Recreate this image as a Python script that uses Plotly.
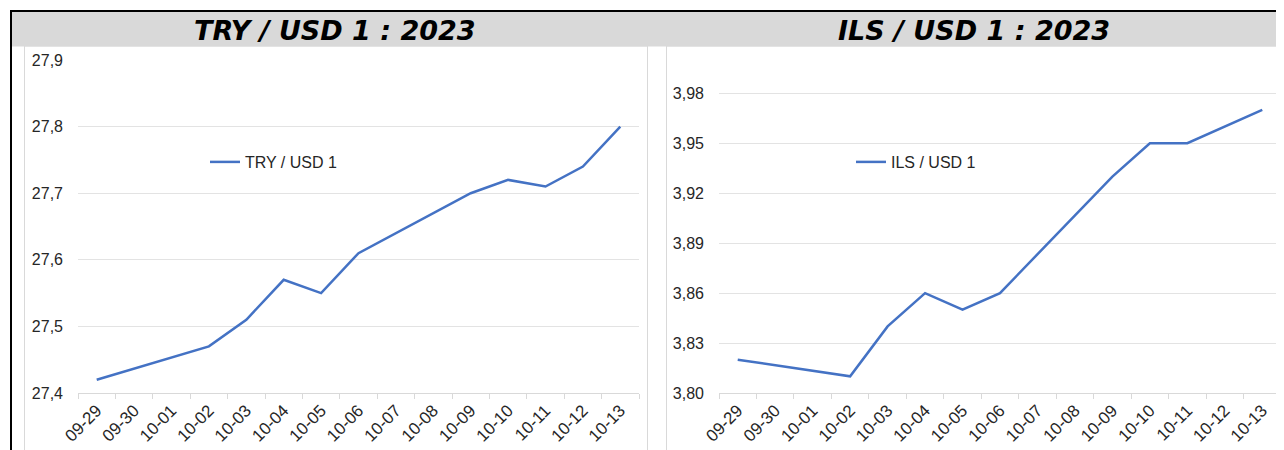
import plotly.graph_objects as go

# ---- data ----
dates = ["09-29", "09-30", "10-01", "10-02", "10-03", "10-04", "10-05", "10-06",
         "10-07", "10-08", "10-09", "10-10", "10-11", "10-12", "10-13"]
try_usd = [27.42, None, None, 27.47, 27.51, 27.57, 27.55, 27.61,
           None, None, 27.70, 27.72, 27.71, 27.74, 27.80]
ils_usd = [3.82, None, None, 3.81, 3.84, 3.86, 3.85, 3.86,
           None, None, 3.93, 3.95, 3.95, 3.96, 3.97]
titles = ["TRY / USD 1 : 2023", "ILS / USD 1 : 2023"]
names = ["TRY / USD 1", "ILS / USD 1"]

# the page body has an 8px margin; size the figure to fill the rest of the window
OFF = 8
W, H = 1284 - OFF, 450 - OFF
def px(x):
    return (x - OFF) / W
def py(y):
    return 1 - (y - OFF) / H

LINE = "#4472C4"
GRID = "#e3e3e3"
AX = "#d9d9d9"
TXT = "#262626"

fig = go.Figure()
fig.add_trace(go.Scatter(x=dates, y=try_usd, name=names[0], mode="lines",
                         line=dict(color=LINE, width=2.5), connectgaps=True,
                         xaxis="x", yaxis="y", legend="legend"))
fig.add_trace(go.Scatter(x=dates, y=ils_usd, name=names[1], mode="lines",
                         line=dict(color=LINE, width=2.5), connectgaps=True,
                         xaxis="x2", yaxis="y2", legend="legend2"))

xcommon = dict(type="category", categoryorder="array", categoryarray=dates,
               range=[-0.5, len(dates) - 0.5], showgrid=False, showline=True,
               linecolor=AX, linewidth=1, ticks="outside", tickson="boundaries",
               ticklen=5, tickcolor=AX, tickangle=-45, automargin=False,
               tickfont=dict(family="Liberation Sans, Arial", size=17, color=TXT),
               fixedrange=True)
ycommon = dict(showgrid=True, gridcolor=GRID, gridwidth=1, zeroline=False,
               showline=False, ticks="", ticklabelstandoff=14, automargin=False,
               tickfont=dict(family="Liberation Sans, Arial", size=16, color=TXT),
               fixedrange=True)

ydom = [py(393), py(60)]
fig.update_layout(
    width=W, height=H,
    margin=dict(l=0, r=0, t=0, b=0, pad=0, autoexpand=False),
    paper_bgcolor="white", plot_bgcolor="white",
    separators=",.",
    xaxis=dict(domain=[px(78), px(639)], anchor="y", **xcommon),
    yaxis=dict(domain=ydom, anchor="x", range=[27.4, 27.9], dtick=0.1, tick0=27.4,
               tickformat=".1f", **ycommon),
    xaxis2=dict(domain=[px(719), px(1281)], anchor="y2", **xcommon),
    yaxis2=dict(domain=ydom, anchor="x2", range=[3.80, 4.00], dtick=0.03, tick0=3.80,
                tickformat=".2f", **ycommon),
    legend=dict(x=px(205), y=py(162), xanchor="left", yanchor="middle",
                bgcolor="rgba(0,0,0,0)", itemwidth=30,
                font=dict(family="Liberation Sans, Arial", size=16, color=TXT)),
    legend2=dict(x=px(851), y=py(162), xanchor="left", yanchor="middle",
                 bgcolor="rgba(0,0,0,0)", itemwidth=30,
                 font=dict(family="Liberation Sans, Arial", size=16, color=TXT)),
    showlegend=True,
)

shapes = [
    # panel borders
    dict(type="rect", xref="paper", yref="paper", x0=px(24.5), x1=px(647.5),
         y0=py(470), y1=py(46), line=dict(color=AX, width=1), fillcolor="white", layer="below"),
    dict(type="rect", xref="paper", yref="paper", x0=px(666.5), x1=px(1300),
         y0=py(470), y1=py(46), line=dict(color=AX, width=1), fillcolor="white", layer="below"),
    # gray title bar
    dict(type="rect", xref="paper", yref="paper", x0=px(12), x1=px(1290),
         y0=py(46.5), y1=py(12), line=dict(width=0), fillcolor="#d9d9d9", layer="below"),
    # black frame lines
    dict(type="line", xref="paper", yref="paper", x0=px(10), x1=px(1290),
         y0=py(11), y1=py(11), line=dict(color="black", width=2)),
    dict(type="line", xref="paper", yref="paper", x0=px(11), x1=px(11),
         y0=py(10), y1=py(460), line=dict(color="black", width=2)),
]
fig.update_layout(shapes=shapes)

for t, cx in zip(titles, [335, 974]):
    fig.add_annotation(text="<b><i>%s</i></b>" % t, xref="paper", yref="paper",
                       x=px(cx), y=py(30), xanchor="center", yanchor="middle",
                       showarrow=False,
                       font=dict(family="DejaVu Sans", size=27, color="black"))

fig.write_html("out.html")
